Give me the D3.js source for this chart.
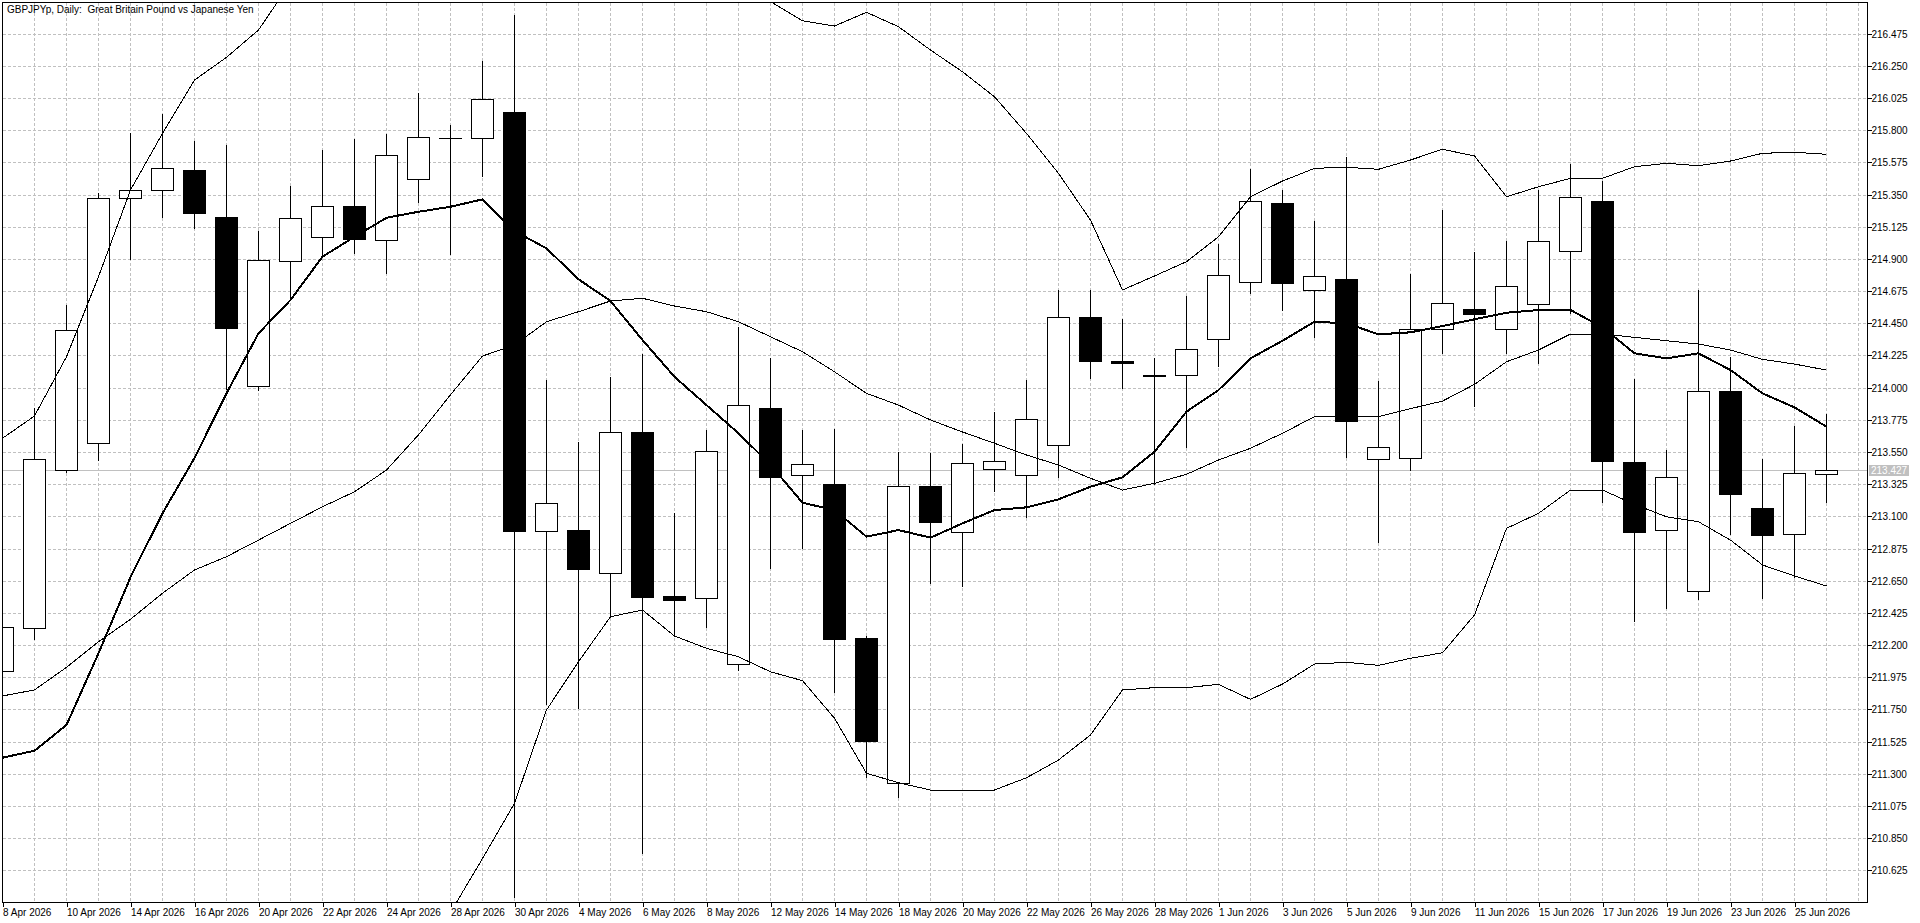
<!DOCTYPE html>
<html>
<head>
<meta charset="utf-8">
<title>GBPJPYp, Daily</title>
<script src="https://cdn.jsdelivr.net/npm/d3@7"></script>
<style>
  body { margin: 0; background: #ffffff; overflow: hidden; }
  #chart text { font-family: "Liberation Sans", Arial, sans-serif; font-size: 10px; fill: #000000; }
  .grid line { stroke: #c0c0c0; stroke-dasharray: 3,2; shape-rendering: crispEdges; }
  .axis path.domain { display: none; }
  .axis line { stroke: #000000; shape-rendering: crispEdges; }
</style>
</head>
<body>
<div id="chart"></div>
<script>
//===============================
//  1.  Data
//===============================

var dates = ["8 Apr 2026","9 Apr 2026","10 Apr 2026","13 Apr 2026","14 Apr 2026","15 Apr 2026","16 Apr 2026","17 Apr 2026",
  "20 Apr 2026","21 Apr 2026","22 Apr 2026","23 Apr 2026","24 Apr 2026","27 Apr 2026","28 Apr 2026","29 Apr 2026","30 Apr 2026",
  "1 May 2026","4 May 2026","5 May 2026","6 May 2026","7 May 2026","8 May 2026","11 May 2026","12 May 2026","13 May 2026",
  "14 May 2026","15 May 2026","18 May 2026","19 May 2026","20 May 2026","21 May 2026","22 May 2026","25 May 2026","26 May 2026",
  "27 May 2026","28 May 2026","29 May 2026","1 Jun 2026","2 Jun 2026","3 Jun 2026","4 Jun 2026","5 Jun 2026","8 Jun 2026",
  "9 Jun 2026","10 Jun 2026","11 Jun 2026","12 Jun 2026","15 Jun 2026","16 Jun 2026","17 Jun 2026","18 Jun 2026","19 Jun 2026",
  "22 Jun 2026","23 Jun 2026","24 Jun 2026","25 Jun 2026","26 Jun 2026"];

var openP = [212.016,212.317,213.422,213.611,215.324,215.380,215.520,215.193,214.009,214.883,215.051,215.268,215.032,215.457,
  215.744,215.746,215.925,212.995,213.004,212.702,213.688,212.540,212.529,212.065,213.858,213.387,213.326,212.247,211.237,
  213.310,212.988,213.429,213.387,213.597,214.492,214.184,214.088,214.086,214.338,214.737,215.291,214.681,214.758,213.499,
  213.506,214.408,214.548,214.408,214.583,214.953,215.303,213.478,213.002,212.576,213.976,213.156,212.974,213.394];

var highP = [212.400,213.862,214.587,215.366,215.788,215.920,215.732,215.704,215.102,215.417,215.669,215.748,215.781,216.065,
  215.844,216.291,216.613,214.060,213.629,214.083,214.244,213.128,213.711,214.431,214.216,213.711,213.720,212.270,213.557,
  213.552,213.611,213.837,214.060,214.688,214.688,214.485,214.212,214.648,215.011,215.534,215.389,215.172,215.620,214.053,
  214.804,215.249,214.958,215.032,215.387,215.569,215.452,214.065,213.569,214.688,214.221,213.506,213.739,213.820];

var lowP = [211.970,212.242,213.410,213.494,214.897,215.195,215.118,213.988,213.983,214.613,214.916,214.944,214.804,215.300,
  214.934,215.482,210.440,211.785,211.760,212.398,210.744,212.270,212.328,212.025,212.737,212.876,211.874,211.279,211.139,
  212.636,212.613,213.279,213.097,213.377,214.069,213.999,213.326,213.587,214.153,214.660,214.543,214.356,213.517,212.923,
  213.424,214.240,213.872,214.240,214.170,214.520,213.202,212.368,212.461,212.520,212.976,212.531,212.678,213.202];

var closeP = [212.324,213.503,214.403,215.324,215.380,215.534,215.219,214.419,214.892,215.184,215.268,215.037,215.625,215.751,
  215.744,216.016,212.995,213.191,212.734,213.688,212.534,212.515,213.559,213.876,213.377,213.464,212.242,211.529,213.310,
  213.058,213.471,213.485,213.778,214.492,214.188,214.170,214.084,214.268,214.785,215.303,214.734,214.778,213.769,213.587,
  214.408,214.590,214.513,214.711,215.023,215.331,213.485,212.988,213.373,213.976,213.254,212.972,213.401,213.427];

// thick moving average
var maLine = [211.412,211.461,211.641,212.142,212.674,213.121,213.508,213.960,214.380,214.613,214.916,215.055,215.188,215.230,
  215.265,215.317,215.095,214.974,214.758,214.606,214.333,214.076,213.878,213.681,213.460,213.195,213.144,212.958,213.004,
  212.951,213.051,213.144,213.163,213.219,213.307,213.373,213.552,213.832,213.983,214.205,214.328,214.461,214.450,214.373,
  214.387,214.431,214.478,214.524,214.543,214.543,214.422,214.240,214.205,214.240,214.123,213.960,213.862,213.727];

// bollinger bands (middle, upper, lower)
var bandMid = [211.844,211.886,212.044,212.223,212.380,212.562,212.725,212.818,212.934,213.051,213.167,213.272,213.424,213.670,
  213.950,214.221,214.298,214.461,214.531,214.606,214.625,214.571,214.531,214.461,214.356,214.251,214.111,213.960,213.878,
  213.774,213.690,213.611,213.529,213.459,213.366,213.284,213.331,213.394,213.494,213.576,213.681,213.797,213.802,213.797,
  213.853,213.906,214.023,214.181,214.263,214.375,214.375,214.352,214.328,214.305,214.263,214.198,214.165,214.123];

var bandUp = [213.646,213.802,214.216,214.776,215.382,215.778,216.151,216.310,216.501,216.830,216.950,217.050,217.150,217.300,
  217.550,217.730,217.500,217.180,216.980,216.810,216.810,216.880,216.890,216.800,216.700,216.566,216.529,216.625,216.524,
  216.361,216.209,216.034,215.778,215.499,215.172,214.683,214.781,214.881,215.055,215.335,215.445,215.534,215.541,215.527,
  215.592,215.667,215.620,215.335,215.405,215.464,215.464,215.545,215.569,215.552,215.585,215.639,215.646,215.632];

var bandLow = [210.040,209.970,209.870,209.670,209.380,209.350,209.300,209.330,209.370,209.270,209.380,209.490,209.700,210.040,
  210.330,210.707,211.093,211.746,212.083,212.398,212.445,212.263,212.177,212.118,212.013,211.951,211.688,211.303,211.237,
  211.186,211.186,211.186,211.272,211.396,211.571,211.886,211.902,211.902,211.925,211.820,211.927,212.067,212.079,212.058,
  212.107,212.146,212.410,213.016,213.121,213.284,213.284,213.184,213.097,213.062,212.934,212.760,212.683,212.613];

var priceTicks = [216.475,216.250,216.025,215.800,215.575,215.350,215.125,214.900,214.675,214.450,214.225,214.000,213.775,
  213.550,213.325,213.100,212.875,212.650,212.425,212.200,211.975,211.750,211.525,211.300,211.075,210.850,210.625];

var chartTitle = "GBPJPYp, Daily:  Great Britain Pound vs Japanese Yen";


//===============================
//  2.  Set up the chart area
//===============================

var svgWidth = 1920;
var svgHeight = 923;

// plot frame (price axis on the right, time axis below)
var plot = { left: 2.5, top: 2.5, right: 1867.5, bottom: 902.5 };

var svg = d3.select("#chart")
  .append("svg")
  .attr("width", svgWidth)
  .attr("height", svgHeight);

svg.append("defs").append("clipPath")
  .attr("id", "plotClip")
  .append("rect")
  .attr("x", plot.left)
  .attr("y", plot.top)
  .attr("width", plot.right - plot.left)
  .attr("height", plot.bottom - plot.top);

// one bar every 32px
var xScale = d3.scaleLinear()
  .domain([0, dates.length - 1])
  .range([2.5, 1826.5]);

var yScale = d3.scaleLinear()
  .domain([210.403, 216.697])
  .range([902, 2]);

// snap to pixel centres so 1px lines stay sharp
function py(v) { return Math.round(yScale(v)) + 0.5; }


//===============================
//  3.  Grid
//===============================

var gridGroup = svg.append("g").attr("class", "grid");

gridGroup.selectAll(".hgrid")
  .data(priceTicks)
  .enter()
  .append("line")
  .attr("x1", plot.left)
  .attr("x2", plot.right)
  .attr("y1", d => py(d))
  .attr("y2", d => py(d));

gridGroup.selectAll(".vgrid")
  .data(d3.range(0, dates.length + 1))
  .enter()
  .append("line")
  .attr("x1", d => xScale(d))
  .attr("x2", d => xScale(d))
  .attr("y1", plot.top)
  .attr("y2", plot.bottom);

// current price line
var lastPrice = closeP[closeP.length - 1];
svg.append("line")
  .attr("x1", plot.left)
  .attr("x2", plot.right)
  .attr("y1", py(lastPrice))
  .attr("y2", py(lastPrice))
  .attr("stroke", "#c0c0c0")
  .attr("shape-rendering", "crispEdges");


//===============================
//  4.  Candles
//===============================

var bars = d3.range(dates.length).map(i => ({
  i: i, o: openP[i], h: highP[i], l: lowP[i], c: closeP[i]
}));

var candleGroup = svg.append("g")
  .attr("clip-path", "url(#plotClip)")
  .attr("shape-rendering", "crispEdges");

// wicks
candleGroup.selectAll(".wick")
  .data(bars)
  .enter()
  .append("line")
  .attr("x1", d => xScale(d.i))
  .attr("x2", d => xScale(d.i))
  .attr("y1", d => py(d.h))
  .attr("y2", d => py(d.l))
  .attr("stroke", "#000");

var halfBody = 11;

// bodies (dojis become a flat line)
candleGroup.selectAll(".body")
  .data(bars)
  .enter()
  .append("rect")
  .attr("x", d => xScale(d.i) - halfBody)
  .attr("width", halfBody * 2)
  .attr("y", d => py(Math.max(d.o, d.c)))
  .attr("height", d => Math.max(py(Math.min(d.o, d.c)) - py(Math.max(d.o, d.c)), 0.01))
  .attr("fill", d => d.c >= d.o ? "#fff" : "#000")
  .attr("stroke", "#000");


//===============================
//  5.  Indicator lines
//===============================

var lineGroup = svg.append("g").attr("clip-path", "url(#plotClip)");

function drawLine(values, width) {
  var line = d3.line()
    .x((d, i) => xScale(i))
    .y(d => yScale(d));
  lineGroup.append("path")
    .datum(values)
    .attr("d", line)
    .attr("fill", "none")
    .attr("stroke", "#000")
    .attr("stroke-width", width)
    .attr("stroke-linejoin", "round")
    .attr("shape-rendering", "crispEdges");
}

drawLine(bandUp, 1);
drawLine(bandMid, 1);
drawLine(bandLow, 1);
drawLine(maLine, 2);


//===============================
//  6.  Frame, axes, labels
//===============================

svg.append("rect")
  .attr("x", plot.left)
  .attr("y", plot.top)
  .attr("width", plot.right - plot.left)
  .attr("height", plot.bottom - plot.top)
  .attr("fill", "none")
  .attr("stroke", "#000")
  .attr("shape-rendering", "crispEdges");

// time axis: label every second bar
var xAxis = d3.axisBottom(xScale)
  .tickValues(d3.range(0, dates.length, 2))
  .tickSize(4)
  .tickFormat(i => dates[i]);

var xAxisGroup = svg.append("g")
  .attr("class", "axis")
  .attr("transform", `translate(0, ${plot.bottom})`)
  .call(xAxis);

xAxisGroup.selectAll("text")
  .attr("text-anchor", "start")
  .attr("x", 0)
  .attr("y", 13)
  .attr("dy", null);

// price axis
var yAxis = d3.axisRight(yScale)
  .tickValues(priceTicks)
  .tickSize(4)
  .tickFormat(d3.format(".3f"));

var yAxisGroup = svg.append("g")
  .attr("class", "axis")
  .attr("transform", `translate(${plot.right}, 0)`)
  .call(yAxis);

yAxisGroup.selectAll(".tick")
  .attr("transform", d => `translate(0, ${py(d)})`);

yAxisGroup.selectAll("text")
  .attr("x", 4)
  .attr("dy", "0.36em");

// current price tag
svg.append("rect")
  .attr("x", 1869)
  .attr("y", py(lastPrice) - 5.5)
  .attr("width", 40)
  .attr("height", 11)
  .attr("fill", "#c0c0c0");

svg.append("text")
  .attr("x", 1871)
  .attr("y", py(lastPrice))
  .attr("dy", "0.36em")
  .style("fill", "#fff")
  .text(d3.format(".3f")(lastPrice));

// symbol title
svg.append("text")
  .attr("x", 7)
  .attr("y", 13)
  .style("white-space", "pre")
  .text(chartTitle);
</script>
</body>
</html>
